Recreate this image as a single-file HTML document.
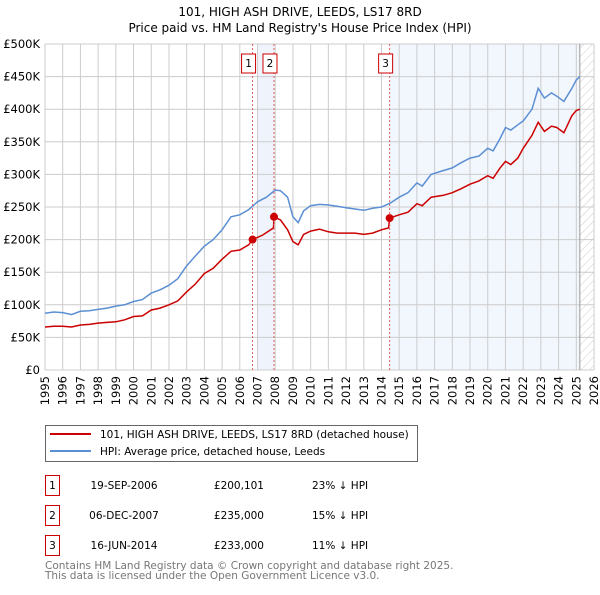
<!DOCTYPE html>
<html><head><meta charset="utf-8"><style>
body{margin:0;background:#fff;width:600px;height:590px;overflow:hidden;font-family:"Liberation Sans","DejaVu Sans",sans-serif}
svg text{font-family:"DejaVu Sans","Liberation Sans",sans-serif}
</style></head><body>
<svg id="chart" width="600" height="590" xmlns="http://www.w3.org/2000/svg">
<text x="300" y="16" text-anchor="middle" font-size="12">101, HIGH ASH DRIVE, LEEDS, LS17 8RD</text>
<text x="300" y="32" text-anchor="middle" font-size="12">Price paid vs. HM Land Registry's House Price Index (HPI)</text>
<g id="bg"></g><g id="grid"></g><g id="marks"></g><g id="axes"></g>
<g>
<rect x="45.5" y="425.5" width="372" height="36" fill="#fff" stroke="#666"/>
<line x1="50" y1="434" x2="91" y2="434" stroke="#cc0000" stroke-width="2"/>
<text x="100" y="438" font-size="10.5">101, HIGH ASH DRIVE, LEEDS, LS17 8RD (detached house)</text>
<line x1="50" y1="451" x2="91" y2="451" stroke="#5b8fd4" stroke-width="2"/>
<text x="100" y="455" font-size="10.5">HPI: Average price, detached house, Leeds</text>
</g>
<g font-size="10.5">
<rect x="45.5" y="475.5" width="14" height="20" fill="#fff" stroke="#cc0000"/><text x="52.5" y="489" text-anchor="middle">1</text>
<text x="124" y="489" text-anchor="middle">19-SEP-2006</text><text x="264" y="489" text-anchor="end">£200,101</text><text x="312" y="489">23% ↓ HPI</text>
<rect x="45.5" y="505.5" width="14" height="20" fill="#fff" stroke="#cc0000"/><text x="52.5" y="519" text-anchor="middle">2</text>
<text x="124" y="519" text-anchor="middle">06-DEC-2007</text><text x="264" y="519" text-anchor="end">£235,000</text><text x="312" y="519">15% ↓ HPI</text>
<rect x="45.5" y="535.5" width="14" height="20" fill="#fff" stroke="#cc0000"/><text x="52.5" y="549" text-anchor="middle">3</text>
<text x="124" y="549" text-anchor="middle">16-JUN-2014</text><text x="264" y="549" text-anchor="end">£233,000</text><text x="312" y="549">11% ↓ HPI</text>
</g>
<text x="45" y="569" font-size="10.5" fill="#777">Contains HM Land Registry data © Crown copyright and database right 2025.</text>
<text x="45" y="579" font-size="10.5" fill="#777">This data is licensed under the Open Government Licence v3.0.</text>
</svg>
<script>
const hpiYears=[1995,1995.5,1996,1996.5,1997,1997.5,1998,1998.5,1999,1999.5,2000,2000.5,2001,2001.5,2002,2002.5,2003,2003.5,2004,2004.5,2005,2005.5,2006,2006.5,2007,2007.5,2008,2008.3,2008.7,2009,2009.3,2009.6,2010,2010.5,2011,2011.5,2012,2012.5,2013,2013.5,2014,2014.5,2015,2015.5,2016,2016.3,2016.8,2017.5,2018,2018.5,2019,2019.5,2020,2020.3,2020.7,2021,2021.3,2021.7,2022,2022.5,2022.85,2023.2,2023.6,2023.9,2024.3,2024.75,2025,2025.2];
const hpiValues=[87,89,88,85,90,91,93,95,98,100,105,108,118,123,130,140,160,175,190,200,215,235,238,246,258,265,276,275,265,235,226,244,252,254,253,251,249,247,245,248,250,256,265,272,287,282,300,306,310,318,325,328,340,336,355,372,368,376,382,400,432,417,425,420,412,432,445,450];
const ppYears=[1995,1995.5,1996,1996.5,1997,1997.5,1998,1998.5,1999,1999.5,2000,2000.5,2001,2001.5,2002,2002.5,2003,2003.5,2004,2004.5,2005,2005.5,2006,2006.5,2006.72,2007.3,2007.9,2007.93,2008.3,2008.7,2009,2009.3,2009.6,2010,2010.5,2011,2011.5,2012,2012.5,2013,2013.5,2014,2014.4,2014.46,2015,2015.5,2016,2016.3,2016.8,2017.5,2018,2018.5,2019,2019.5,2020,2020.3,2020.7,2021,2021.3,2021.7,2022,2022.5,2022.85,2023.2,2023.6,2023.9,2024.3,2024.75,2025,2025.2];
const ppValues=[66,67,67,66,69,70,72,73,74,77,82,83,92,95,100,106,120,132,148,156,170,182,184,192,200,207,218,235,230,215,197,192,208,213,216,212,210,210,210,208,210,215,218,233,238,242,255,252,265,268,272,278,285,290,298,294,310,320,315,325,340,360,380,366,374,372,364,390,398,400];
const sales=[{n:"1",y:2006.72,v:200.101},{n:"2",y:2007.93,v:235},{n:"3",y:2014.46,v:233}];
const yTicks=[0,50,100,150,200,250,300,350,400,450,500];
const yLabels=["£0","£50K","£100K","£150K","£200K","£250K","£300K","£350K","£400K","£450K","£500K"];
const xTicks=[1995,1996,1997,1998,1999,2000,2001,2002,2003,2004,2005,2006,2007,2008,2009,2010,2011,2012,2013,2014,2015,2016,2017,2018,2019,2020,2021,2022,2023,2024,2025,2026];
const dataEnd=2025.2;
const X0=45,X1=594,Y0=370,Y1=44;
const sx=y=>X0+(y-1995)/(2026-1995)*(X1-X0);
const sy=v=>Y0-v/500*(Y0-Y1);
const NS="http://www.w3.org/2000/svg";
function mk(p,t,a){const e=document.createElementNS(NS,t);for(const k in a)e.setAttribute(k,a[k]);document.getElementById(p).appendChild(e);return e;}
let r=mk('bg','rect',{x:sx(2007),y:Y1,width:sx(sales[1].y)-sx(2007),height:Y0-Y1,fill:'#eef3fc'});


r=mk('bg','rect',{x:sx(sales[2].y),y:Y1,width:sx(dataEnd)-sx(sales[2].y),height:Y0-Y1,fill:'#f2f6fd'});


const defs=mk('bg','defs',{});
const pat=document.createElementNS(NS,'pattern');pat.setAttribute('id','hatch');pat.setAttribute('width','6');pat.setAttribute('height','6');pat.setAttribute('patternUnits','userSpaceOnUse');pat.setAttribute('patternTransform','rotate(45)');
const pl=document.createElementNS(NS,'line');pl.setAttribute('x1','0');pl.setAttribute('y1','0');pl.setAttribute('x2','0');pl.setAttribute('y2','6');pl.setAttribute('stroke','#ccc');pat.appendChild(pl);defs.appendChild(pat);
r=mk('bg','rect',{x:sx(dataEnd),y:Y1,width:X1-sx(dataEnd),height:Y0-Y1,fill:'url(#hatch)'});


yTicks.forEach((t,i)=>{
 const l=mk('grid','line',{x1:X0,x2:X1,y1:sy(t),y2:sy(t),stroke:'#ccc'});
 
 
 const tx=mk('axes','text',{x:40,y:sy(t)+4,'text-anchor':'end','font-size':'11.5'});tx.textContent=yLabels[i];
 
 
});
xTicks.forEach(t=>{
 const l=mk('grid','line',{x1:sx(t),x2:sx(t),y1:Y1,y2:Y0,stroke:'#ccc'});
 
 
 const tx=mk('axes','text',{x:0,y:0,'text-anchor':'end','font-size':'11.5',transform:`translate(${sx(t)+4},${Y0+6}) rotate(-90)`});tx.textContent=t;
 
 
});
let vl=mk('grid','line',{x1:sx(dataEnd),x2:sx(dataEnd),y1:Y1,y2:Y0,stroke:'#999'});


function path(xs,vs){return xs.map((y,i)=>(i?'L':'M')+sx(y).toFixed(1)+','+sy(vs[i]).toFixed(1)).join('');}
let p=mk('marks','path',{d:path(hpiYears,hpiValues),fill:'none',stroke:'#5b8fd4','stroke-width':1.5});


p=mk('marks','path',{d:path(ppYears,ppValues),fill:'none',stroke:'#cc0000','stroke-width':1.5});


sales.forEach(s=>{
 const l=mk('marks','line',{x1:sx(s.y),x2:sx(s.y),y1:Y1,y2:Y0,stroke:'#e06060','stroke-dasharray':'2,2'});
 
 
 const c=mk('marks','circle',{cx:sx(s.y),cy:sy(s.v),r:4,fill:'#cc0000'});
 
 
 const b=mk('marks','rect',{x:sx(s.y)-11,y:54,width:14,height:19,fill:'#fff',stroke:'#cc0000'});
 
 
 const t=mk('marks','text',{x:sx(s.y)-4,y:67,'text-anchor':'middle','font-size':'10.5'});t.textContent=s.n;
 
 
});
</script>
</body></html>
